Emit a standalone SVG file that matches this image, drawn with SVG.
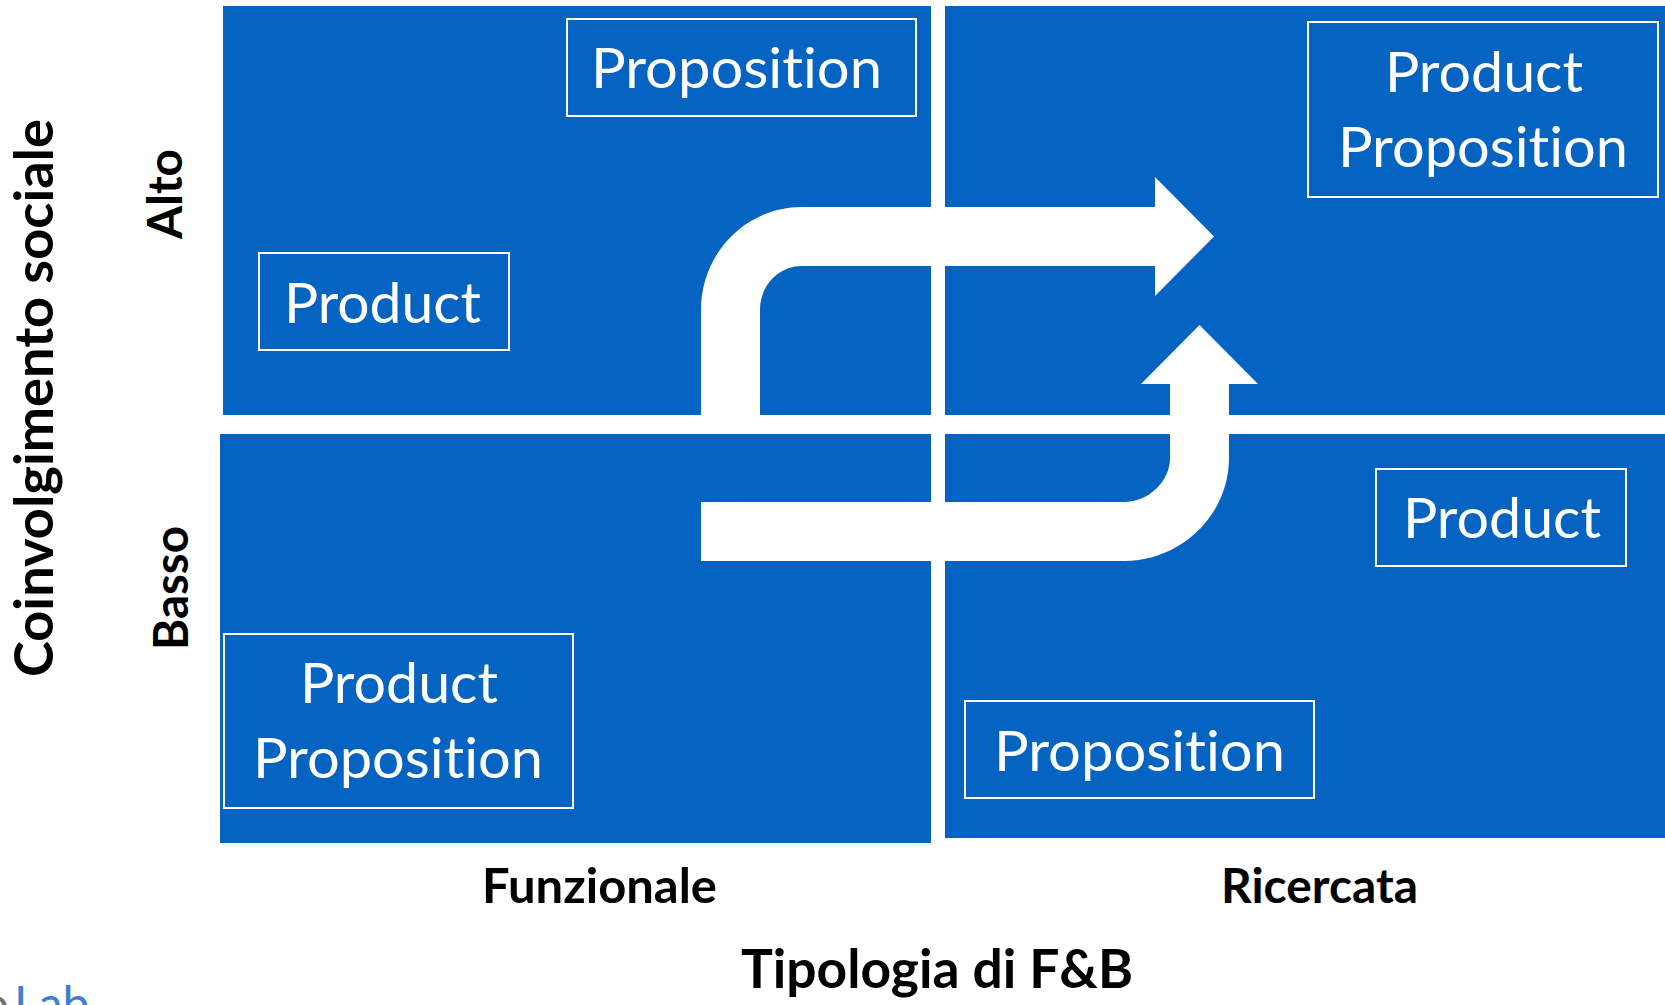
<svg xmlns="http://www.w3.org/2000/svg" width="1665" height="1005" viewBox="0 0 1665 1005">
<style>
.quad{fill:#0563C1}
.box{fill:none;stroke:#FFFFFF;stroke-width:2}
text{font-variant-ligatures:none;font-feature-settings:"liga" 0,"clig" 0}
.wt{font-family:Lato,"Open Sans","Liberation Sans",sans-serif;font-size:57px;fill:#FFFFFF}
.lbl{font-family:Lato,"Open Sans","Liberation Sans",sans-serif;font-weight:700;fill:#000000}
.arrow{fill:#FFFFFF}
</style>
<rect width="1665" height="1005" fill="#FFFFFF"/>
<g id="quadrants">
<rect class="quad" x="223" y="6" width="708" height="409"/>
<rect class="quad" x="945" y="6" width="720" height="409"/>
<rect class="quad" x="220" y="434" width="711" height="409"/>
<rect class="quad" x="945" y="434" width="720" height="404"/>
</g>
<g id="connectors">
<path class="arrow" d="M701,415 L701,310 C701,253 746,207 802,207 L1155,207 L1155,177 L1214,236.5 L1155,296 L1155,266 L802,266 C778.5,266 760,285.5 760,310 L760,415 Z"/>
<path class="arrow" d="M701,502 L1124,502 C1148,502 1170,482 1170,458 L1170,384 L1141,384 L1199.5,325 L1258,384 L1229,384 L1229,458 C1229,515 1181,561 1124,561 L701,561 Z"/>
</g>
<g id="tl-proposition">
<rect class="box" x="567" y="19" width="349" height="97"/>
<text class="wt" x="591" y="88" textLength="291" lengthAdjust="spacingAndGlyphs">Proposition</text>
</g>
<g id="tl-product">
<rect class="box" x="259" y="253" width="250" height="97"/>
<text class="wt" x="284" y="323" textLength="197" lengthAdjust="spacingAndGlyphs">Product</text>
</g>
<g id="tr-product-proposition">
<rect class="box" x="1308" y="22" width="350" height="175"/>
<text class="wt" x="1385" y="92" textLength="198" lengthAdjust="spacingAndGlyphs">Product</text>
<text class="wt" x="1338" y="167" textLength="290" lengthAdjust="spacingAndGlyphs">Proposition</text>
</g>
<g id="br-product">
<rect class="box" x="1376" y="469" width="250" height="97"/>
<text class="wt" x="1403" y="538" textLength="198" lengthAdjust="spacingAndGlyphs">Product</text>
</g>
<g id="br-proposition">
<rect class="box" x="965" y="701" width="349" height="97"/>
<text class="wt" x="994" y="771" textLength="291" lengthAdjust="spacingAndGlyphs">Proposition</text>
</g>
<g id="bl-product-proposition">
<rect class="box" x="224" y="634" width="349" height="174"/>
<text class="wt" x="300" y="703" textLength="198" lengthAdjust="spacingAndGlyphs">Product</text>
<text class="wt" x="253" y="778" textLength="290" lengthAdjust="spacingAndGlyphs">Proposition</text>
</g>
<g id="axis-labels">
<text class="lbl" transform="translate(53,398) rotate(-90)" font-size="53" text-anchor="middle" textLength="558" lengthAdjust="spacingAndGlyphs">Coinvolgimento sociale</text>
<text class="lbl" transform="translate(182,194) rotate(-90)" font-size="48" text-anchor="middle" textLength="90" lengthAdjust="spacingAndGlyphs">Alto</text>
<text class="lbl" transform="translate(188,588) rotate(-90)" font-size="48" text-anchor="middle" textLength="124" lengthAdjust="spacingAndGlyphs">Basso</text>
<text class="lbl" x="482" y="903" font-size="48" textLength="235" lengthAdjust="spacingAndGlyphs">Funzionale</text>
<text class="lbl" x="1221" y="903" font-size="48" textLength="197" lengthAdjust="spacingAndGlyphs">Ricercata</text>
<text class="lbl" x="741" y="988" font-size="53" textLength="392" lengthAdjust="spacingAndGlyphs">Tipologia di F&amp;B</text>
</g>
<g id="logo">
<text x="9" y="1021" font-family="Lato,'Open Sans','Liberation Sans',sans-serif" font-size="48" fill="#767171" text-anchor="end">o</text>
<text x="14" y="1021" font-family="Lato,'Open Sans','Liberation Sans',sans-serif" font-size="48" fill="#3C7FD1">Lab</text>
</g>
</svg>
